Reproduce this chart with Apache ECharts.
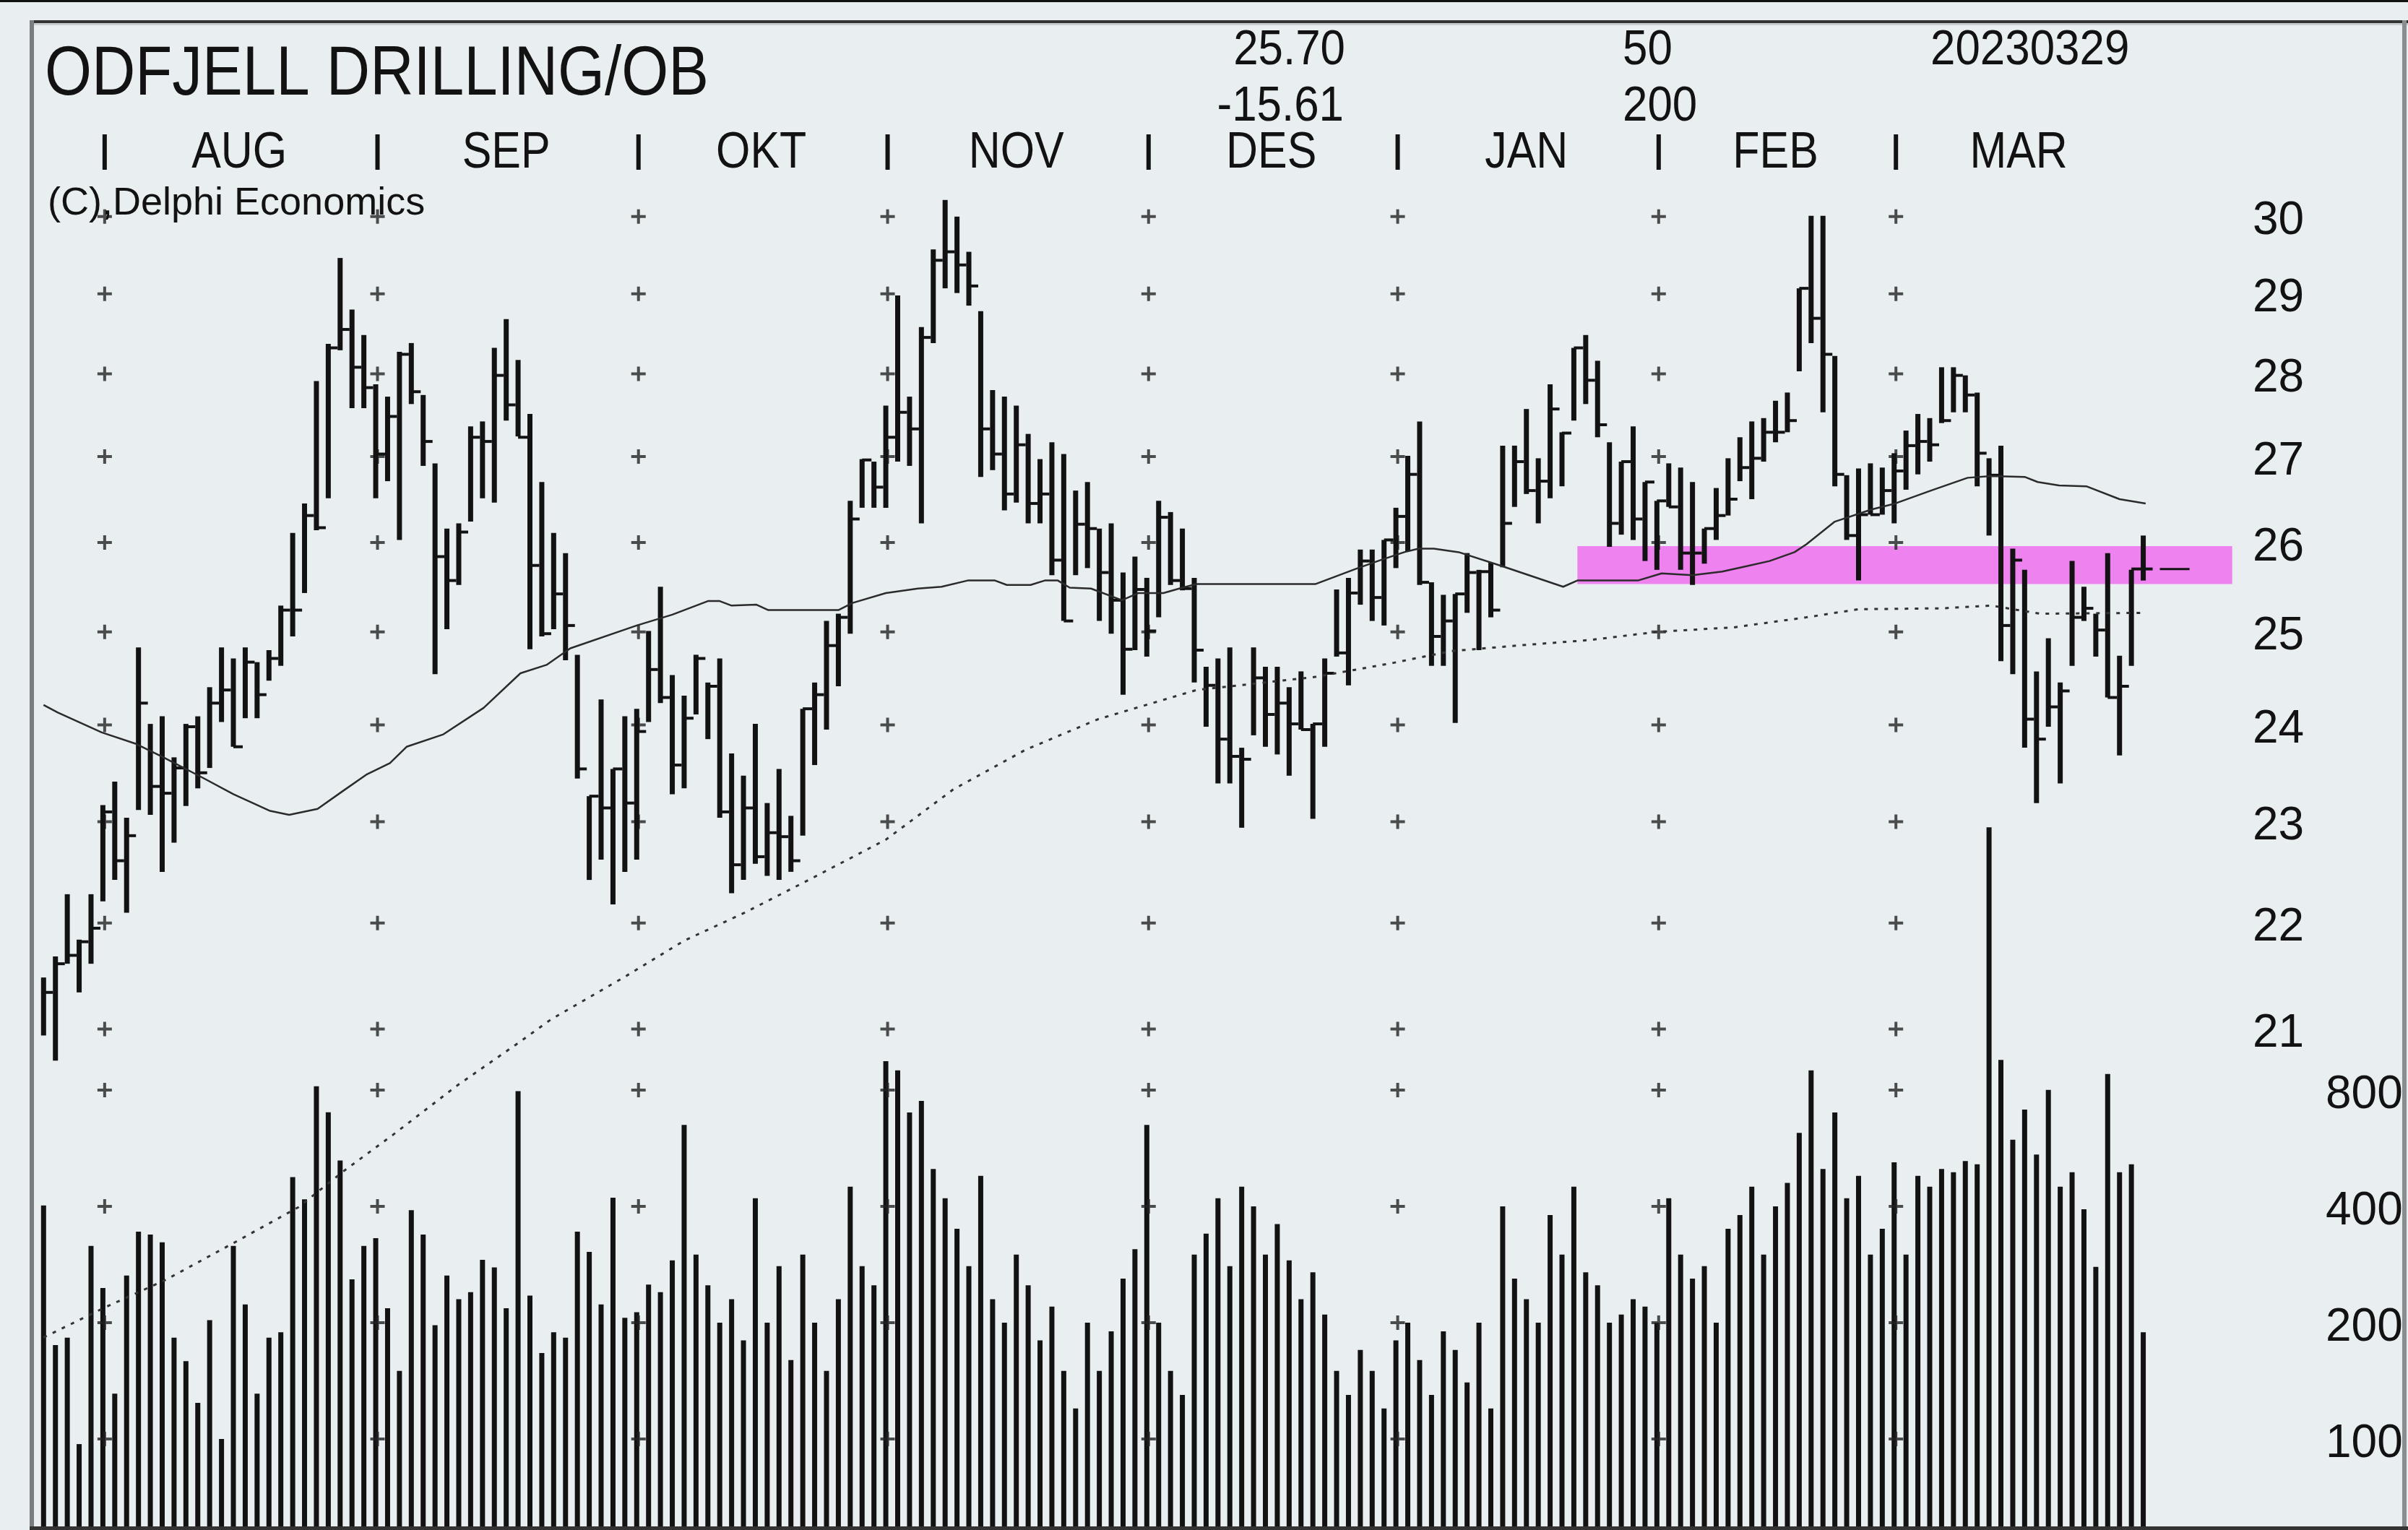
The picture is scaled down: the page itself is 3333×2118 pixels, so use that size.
<!DOCTYPE html>
<html>
<head>
<meta charset="utf-8">
<title>ODFJELL DRILLING/OB</title>
<script src="https://cdn.jsdelivr.net/npm/echarts@6.0.0/dist/echarts.min.js"></script>
<style>
  html, body { margin: 0; padding: 0; background: #e9eef1; }
  #chart { width: 3333px; height: 2118px; }
</style>
</head>
<body>
<div id="chart"></div>
<script>
// daglige kurser (høy / lav / slutt), én verdi per handelsdag
var highs = [21.48,21.68,22.28,21.84,22.28,23.17,23.41,23.04,24.83,24.01,
  24.09,23.66,24.01,24.09,24.40,24.83,24.71,24.83,24.67,24.80,
  25.29,26.11,26.45,27.91,28.37,29.46,28.80,28.48,27.87,27.72,
  28.27,28.38,27.74,26.92,26.16,26.22,27.36,27.42,28.32,28.68,
  28.17,27.51,26.70,26.11,25.88,24.75,23.26,24.27,23.54,24.09,
  24.17,25.01,25.50,24.53,24.31,24.75,24.45,24.71,23.70,23.47,
  24.01,23.19,23.54,23.06,24.17,24.45,25.12,25.20,26.48,26.97,
  26.94,27.61,28.98,27.72,28.58,29.57,30.22,30.00,29.54,28.78,
  27.80,27.72,27.61,27.27,26.97,27.17,27.03,26.60,26.70,26.16,
  26.22,25.66,25.84,25.60,26.48,26.35,26.16,25.60,24.62,24.71,
  24.83,23.76,24.83,24.62,24.62,24.40,24.57,24.01,24.71,25.47,
  25.60,25.92,25.92,26.03,26.40,27.01,27.42,25.55,25.41,25.42,
  25.88,25.69,25.77,27.13,27.13,27.57,26.98,27.87,27.29,28.32,
  28.48,28.16,27.17,26.94,27.36,26.70,26.48,26.92,26.87,26.70,
  26.16,26.63,26.98,27.23,27.42,27.46,27.67,27.77,29.07,30.01,
  30.01,28.22,26.78,26.86,26.92,26.87,27.04,27.31,27.51,27.46,
  28.08,28.08,27.98,27.77,26.98,27.13,25.93,25.69,24.57,24.93,
  24.45,25.79,25.50,25.20,25.88,24.74,25.69,26.08];
var lows = [20.94,20.71,21.61,21.34,21.61,22.21,22.42,22.10,23.12,23.07,
  22.50,22.79,23.16,23.34,23.55,24.03,23.77,24.07,24.07,24.47,
  24.63,24.95,25.43,26.14,26.51,28.29,27.58,27.58,26.51,26.71,
  26.03,27.63,26.89,24.54,25.03,25.52,26.24,26.51,26.46,27.43,
  27.24,24.81,24.95,25.03,24.69,23.44,22.42,22.62,22.18,22.50,
  22.62,24.03,24.23,23.28,23.34,24.11,23.85,23.04,22.29,22.42,
  22.58,22.46,22.42,22.50,22.86,23.58,23.95,24.41,24.98,26.40,
  26.40,26.40,26.94,26.89,26.22,28.38,29.07,29.01,28.85,26.76,
  26.84,26.37,26.46,26.22,26.22,25.63,25.12,25.63,25.71,25.12,
  24.98,24.32,24.80,24.73,25.16,25.52,25.46,24.45,23.98,23.39,
  23.39,22.94,23.89,23.77,23.69,23.47,23.95,23.03,23.77,24.73,
  24.42,25.30,25.12,25.07,25.71,25.90,25.52,24.63,24.63,24.02,
  25.21,24.80,25.16,25.72,26.41,26.56,26.22,26.51,26.65,27.43,
  27.63,27.23,25.95,26.09,26.03,25.79,25.69,26.41,25.69,25.52,
  25.76,26.03,26.31,26.71,26.50,26.94,27.17,27.29,28.03,28.38,
  27.53,26.65,26.03,25.57,26.32,26.32,26.22,26.61,26.79,26.94,
  27.40,27.53,27.53,26.65,26.08,24.68,24.54,23.76,23.19,23.98,
  23.39,24.63,25.12,24.73,24.29,23.68,24.63,25.57];
var closes = [21.34,21.61,21.69,21.82,21.95,23.10,22.61,22.86,24.23,23.36,
  23.29,23.55,23.98,23.50,24.23,24.37,23.77,24.67,24.32,24.71,
  25.24,25.24,26.31,26.17,28.32,28.55,28.08,27.83,27.03,27.48,
  28.24,27.78,27.18,25.84,25.57,26.12,27.23,27.18,27.98,27.62,
  27.23,25.74,24.98,25.42,25.07,23.54,23.26,23.14,23.54,23.19,
  23.93,24.59,24.29,23.58,24.07,24.71,24.41,23.10,22.57,23.14,
  22.65,22.89,22.85,22.61,24.17,24.32,24.85,25.16,26.27,26.96,
  26.64,27.23,27.53,27.33,28.45,29.43,29.54,29.37,29.10,27.33,
  27.03,26.56,27.14,26.45,26.56,25.80,25.12,26.21,26.16,25.66,
  25.35,24.81,25.47,25.01,26.29,25.57,25.48,24.80,24.42,23.85,
  23.67,23.64,24.50,24.11,24.23,24.01,23.95,24.01,24.55,24.77,
  25.43,25.79,25.38,26.03,26.30,26.79,25.55,24.95,25.12,25.42,
  25.66,25.67,25.24,26.22,26.94,26.60,26.71,27.57,27.28,28.32,
  27.92,27.38,26.22,26.94,26.27,26.70,26.48,26.41,25.88,25.88,
  26.16,26.31,26.50,26.87,26.98,27.29,27.29,27.43,29.07,28.69,
  28.24,26.79,26.08,26.32,26.32,26.60,26.83,27.13,27.18,27.14,
  27.43,27.98,27.74,27.04,26.78,25.07,25.80,24.06,23.85,24.19,
  24.36,25.16,25.26,25.02,24.29,24.41,25.70,25.70];
// omsetning (tusen aksjer)
var volumes = [402,175,183,97,316,246,131,265,344,338,
  323,183,159,124,203,100,316,223,131,183,
  189,476,417,818,701,526,259,316,331,218,
  150,391,338,197,265,230,240,291,278,218,
  795,235,167,189,183,344,305,223,421,206,
  213,251,240,290,650,300,250,200,230,180,
  420,200,280,160,300,200,150,230,450,280,
  250,950,900,700,750,500,420,350,280,480,
  230,200,300,250,180,220,150,120,200,150,
  190,260,310,650,200,150,130,300,340,420,
  280,450,400,300,360,290,230,270,210,150,
  130,170,150,120,180,200,160,130,190,170,
  140,200,120,400,260,230,200,380,300,450,
  270,250,200,210,230,220,200,420,300,260,
  280,200,350,380,450,300,400,460,620,900,
  500,700,420,480,300,350,520,300,480,450,
  500,490,524,514,3830,958,595,712,545,801,
  450,490,393,279,880,490,514,189];
// glidende snitt 50 og 200 dager, [dag, kurs] lest av grafen
var ma50 = [[0,24.21],[1.2,24.13],[4.9,23.92],[7.8,23.80],[10.1,23.66],[13.4,23.45],[16,23.28],
  [19.1,23.11],[20.7,23.07],[23.1,23.13],[25.2,23.31],[27.2,23.48],[29.2,23.60],[30.6,23.77],
  [33.7,23.90],[37.1,24.18],[40.2,24.55],[42.4,24.64],[44.4,24.82],[50,25.07],[53,25.19],
  [56,25.34],[57,25.34],[58,25.29],[60.1,25.30],[61.1,25.24],[67,25.24],[68.2,25.32],
  [71,25.43],[73.7,25.48],[75.7,25.50],[77.9,25.57],[80.2,25.57],[81.2,25.52],[83.2,25.52],
  [84.4,25.57],[85.5,25.57],[86.5,25.49],[88.3,25.48],[90.9,25.35],[92.3,25.43],[94.4,25.43],
  [96,25.49],[97.2,25.53],[107.2,25.53],[110.6,25.70],[112.7,25.80],[114.7,25.89],[115.9,25.93],
  [117.2,25.93],[119.3,25.89],[123,25.73],[128.1,25.50],[129.3,25.57],[134.4,25.57],[136.4,25.65],
  [139,25.63],[141.5,25.67],[143.5,25.73],[145.5,25.79],[147.6,25.89],[148.6,25.98],[151,26.24],
  [154.1,26.38],[156.1,26.45],[159.1,26.60],[162.2,26.75],[164.2,26.77],[167,26.76],[168.1,26.70],
  [169.9,26.66],[172.2,26.65],[175,26.50],[177.2,26.45]];
var ma200 = [[0,18.34],[5.1,18.58],[10.3,18.81],[15.9,19.11],[21.5,19.42],[25.3,19.73],[29.5,20.05],
  [34.8,20.48],[40,20.87],[42.8,21.09],[48.9,21.48],[54,21.83],[59.1,22.10],[64.5,22.42],[71,22.82],
  [76.7,23.33],[82.8,23.74],[88.9,24.06],[97.2,24.37],[107.2,24.51],[113.7,24.66],[118.7,24.79],
  [124.2,24.85],[130.3,24.91],[136,25.00],[142.5,25.05],[148.6,25.16],[153,25.25],[160.1,25.26],
  [164.2,25.29],[168.3,25.20],[177.2,25.21]];

var monthNames = ['AUG', 'SEP', 'OKT', 'NOV', 'DES', 'JAN', 'FEB', 'MAR'];
var monthStart = [5, 28, 50, 71, 93, 114, 136, 156];
var priceTicks = [21, 22, 23, 24, 25, 26, 27, 28, 29, 30];
var volumeTicks = [100, 200, 400, 800];
var bandPrice = [25.53, 25.96];
var bandDays = [129.3, 184.5];
var lastClose = 25.70;
var headerLeft = ['25.70', '-15.61'];
var headerMid = ['50', '200'];
var dateText = '20230329';

// skala
var priceMin = 16.88, priceMax = 32.66;
var volMin = 59.4, volMax = 462000;
var ink = '#121212';
var fontName = '"Liberation Sans", Arial, sans-serif';

function renderBar(params, api) {
  var x = api.value(0);
  var hi = api.coord([x, api.value(1)]);
  var lo = api.coord([x, api.value(2)]);
  var cl = api.coord([x, api.value(3)]);
  return {
    type: 'group',
    children: [
      { type: 'line', shape: { x1: hi[0], y1: hi[1], x2: lo[0], y2: lo[1] }, style: { stroke: ink, lineWidth: 7 } },
      { type: 'line', shape: { x1: cl[0], y1: cl[1], x2: cl[0] + 13, y2: cl[1] }, style: { stroke: ink, lineWidth: 4 } }
    ]
  };
}

function renderVolume(params, api) {
  var top = api.coord([api.value(0), api.value(1)]);
  var base = api.coord([api.value(0), Math.log2(volMin)]);
  return { type: 'line', shape: { x1: top[0], y1: top[1], x2: base[0], y2: base[1] }, style: { stroke: ink, lineWidth: 7 } };
}

function renderBand(params, api) {
  var a = api.coord([api.value(0), api.value(3)]);
  var b = api.coord([api.value(1), api.value(2)]);
  return { type: 'rect', shape: { x: a[0], y: a[1], width: b[0] - a[0], height: b[1] - a[1] }, style: { fill: '#ee82ee' } };
}

var plusSymbol = 'path://M0,8H20V12H0Z M8,0H12V20H8Z';
var plusPrice = [], plusVolume = [];
monthStart.forEach(function (m) {
  priceTicks.forEach(function (t) { plusPrice.push([m + 0.15, Math.log(t)]); });
  volumeTicks.forEach(function (t) { plusVolume.push([m + 0.15, Math.log2(t)]); });
});

// etikettene står litt lavere enn midten av merket
var axisText = { inside: true, align: 'left', verticalAlign: 'top', lineHeight: 14,
  fontSize: 64, fontFamily: fontName, color: ink };

var option = {
  backgroundColor: '#e9eef1',
  animation: false,
  grid: { left: 47, right: 8, top: 32, bottom: 5 },
  xAxis: { type: 'value', min: -0.81, max: 198.83, show: false },
  yAxis: [
    {
      type: 'value', min: Math.log(priceMin), max: Math.log(priceMax), position: 'right',
      axisLine: { show: false }, axisTick: { show: false }, splitLine: { show: false },
      axisLabel: Object.assign({}, axisText, {
        margin: 207,
        customValues: priceTicks.map(Math.log),
        formatter: function (v) { return Math.round(Math.exp(v)); }
      })
    },
    {
      type: 'value', min: Math.log2(volMin), max: Math.log2(volMax), position: 'right',
      axisLine: { show: false }, axisTick: { show: false }, splitLine: { show: false },
      axisLabel: Object.assign({}, axisText, {
        margin: 106,
        customValues: volumeTicks.map(Math.log2),
        formatter: function (v) { return Math.round(Math.pow(2, v)); }
      })
    }
  ],
  series: [
    {
      name: 'volum', type: 'custom', yAxisIndex: 1, z: 1,
      renderItem: renderVolume,
      data: volumes.map(function (v, i) { return [i, Math.log2(v)]; })
    },
    {
      name: 'bånd', type: 'custom', z: 2,
      renderItem: renderBand,
      data: [[bandDays[0], bandDays[1], Math.log(bandPrice[0]), Math.log(bandPrice[1])]]
    },
    {
      name: 'rutenett', type: 'scatter', z: 3, symbol: plusSymbol, symbolSize: [20, 20],
      itemStyle: { color: '#222' }, silent: true, data: plusPrice
    },
    {
      name: 'rutenett volum', type: 'scatter', yAxisIndex: 1, z: 3, symbol: plusSymbol, symbolSize: [20, 20],
      itemStyle: { color: '#222' }, silent: true, data: plusVolume
    },
    {
      name: 'kurs', type: 'custom', z: 4,
      renderItem: renderBar,
      data: highs.map(function (h, i) { return [i, Math.log(h), Math.log(lows[i]), Math.log(closes[i])]; })
    },
    {
      name: 'MA50', type: 'line', z: 5, showSymbol: false, symbol: 'none',
      lineStyle: { color: '#2b2b2b', width: 2.5 },
      data: ma50.map(function (p) { return [p[0], Math.log(p[1])]; })
    },
    {
      name: 'MA200', type: 'line', z: 5, showSymbol: false, symbol: 'none',
      lineStyle: { color: '#333', width: 3, type: [5, 9] },
      data: ma200.map(function (p) { return [p[0], Math.log(p[1])]; })
    },
    {
      name: 'siste', type: 'line', z: 5, showSymbol: false, symbol: 'none',
      lineStyle: { color: ink, width: 3 },
      data: [[closes.length - 1 + 1.4, Math.log(lastClose)], [closes.length - 1 + 3.9, Math.log(lastClose)]]
    }
  ]
};

var chart = echarts.init(document.getElementById('chart'));
chart.setOption(option);

// tekster og ramme
function px(v) { return chart.convertToPixel({ xAxisIndex: 0 }, v); }
function txt(text, x, y, size, sx, align) {
  return {
    type: 'text', x: x, y: y, scaleX: sx, z: 100,
    style: { text: text, font: size + 'px ' + fontName, fill: ink, align: align, verticalAlign: 'middle',
      textAlign: align, textVerticalAlign: 'middle' }
  };
}

var graphics = [
  { type: 'rect', shape: { x: 0, y: 0, width: 3333, height: 3 }, style: { fill: '#111' }, z: 100 },
  { type: 'rect', shape: { x: 41, y: 28, width: 3292, height: 4 }, style: { fill: '#333' }, z: 100 },
  { type: 'rect', shape: { x: 41, y: 32, width: 3292, height: 3 }, style: { fill: '#c9cdd0' }, z: 100 },
  { type: 'rect', shape: { x: 41, y: 28, width: 6, height: 2090 }, style: { fill: '#7a7d80' }, z: 100 },
  { type: 'rect', shape: { x: 3325, y: 28, width: 6, height: 2090 }, style: { fill: '#8a8d90' }, z: 100 },
  { type: 'rect', shape: { x: 41, y: 2113, width: 3292, height: 5 }, style: { fill: '#333' }, z: 100 },
  txt('ODFJELL DRILLING/OB', 62, 105, 96, 0.87, 'left'),
  txt(headerLeft[0], 1862, 70, 68, 0.91, 'right'),
  txt(headerLeft[1], 1860, 148, 68, 0.91, 'right'),
  txt(headerMid[0], 2246, 70, 68, 0.91, 'left'),
  txt(headerMid[1], 2246, 148, 68, 0.91, 'left'),
  txt(dateText, 2672, 70, 68, 0.91, 'left'),
  txt('(C),Delphi Economics', 66, 282, 54, 1, 'left')
];

monthStart.forEach(function (m, k) {
  var end = k < monthStart.length - 1 ? monthStart[k + 1] : closes.length - 1;
  graphics.push(txt(monthNames[k], px((m + end) / 2), 213, 70, 0.87, 'center'));
  graphics.push({ type: 'rect', shape: { x: px(m + 0.15) - 3, y: 186, width: 6, height: 49 }, style: { fill: ink }, z: 100 });
});

chart.setOption({ graphic: graphics });
</script>
</body>
</html>
